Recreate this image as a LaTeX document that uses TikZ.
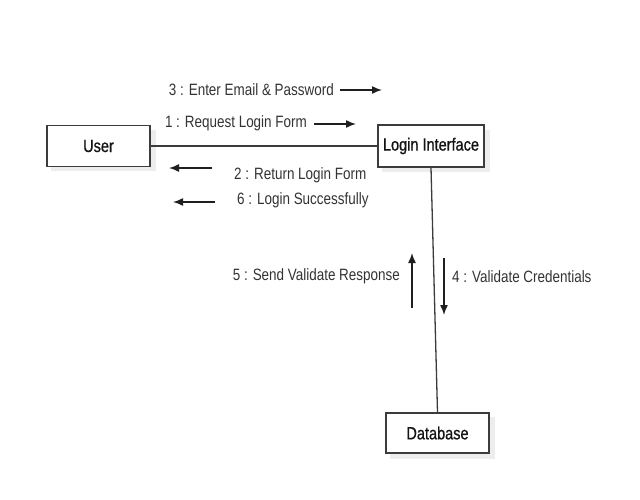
\documentclass[tikz,border=0pt]{standalone}
\usepackage{fontspec}
\setmainfont{Liberation Sans}[FakeStretch=0.82]
\newfontfamily\boxfont{Liberation Sans}[FakeStretch=0.82,FakeBold=0.8]
\usetikzlibrary{arrows.meta}
\definecolor{lbl}{HTML}{333333}
\definecolor{edge}{HTML}{3C3C3C}
\tikzset{
  box/.style={draw=edge, line width=1.5pt, fill=white, font=\boxfont\fontsize{17.7}{20}\selectfont, text=black!92, inner sep=0pt},
  shade/.style={fill=black!7, draw=none},
  lab/.style={font=\fontsize{16.4}{19}\selectfont, text=lbl, inner sep=0pt},
  msg/.style={draw=black!88, line width=1.5pt, -{Latex[length=10pt,width=8pt]}},
  link/.style={draw=edge, line width=1.3pt}
}
\begin{document}
\begin{tikzpicture}[x=1pt,y=-1pt]
\useasboundingbox[fill=white] (0,0) rectangle (640,499);
% shadows
\fill[shade] (51,130) rectangle (156,171);
\fill[shade] (382,130) rectangle (490,172);
\fill[shade] (390,417) rectangle (495,459);
% boxes
\node[box, minimum width=103pt, minimum height=41pt] (user) at (98.5,146) {User};
\node[box, minimum width=106pt, minimum height=42pt] (login) at (431,146) {Login Interface};
\node[box, minimum width=103pt, minimum height=40pt] (db) at (437.5,433) {Database};
% links
\draw[link] (user.east) -- (login.west);
\draw[link] (login.south) -- (db.north);
% messages
\node[lab, anchor=east] (m3) at (334,90) {3 : Enter Email \& Password};
\coordinate (a3s) at (340,90); \coordinate (a3e) at (382,90);
\draw[msg] (a3s) -- (a3e);

\node[lab, anchor=east] (m1) at (307,123) {1 : Request Login Form};
\coordinate (a1s) at (314,124); \coordinate (a1e) at (356,124);
\draw[msg] (a1s) -- (a1e);

\node[lab, anchor=west] (m2) at (234,175) {2 : Return Login Form};
\coordinate (a2s) at (212,168); \coordinate (a2e) at (169,168);
\draw[msg] (a2s) -- (a2e);

\node[lab, anchor=west] (m6) at (237,200) {6 : Login Successfully};
\coordinate (a6s) at (215,202); \coordinate (a6e) at (173,202);
\draw[msg] (a6s) -- (a6e);

\node[lab, anchor=east] (m5) at (400,276) {5 : Send Validate Response};
\coordinate (a5s) at (412,308); \coordinate (a5e) at (412,253);
\draw[msg] (a5s) -- (a5e);

\node[lab, anchor=west] (m4) at (452,277) {4 : Validate Credentials};
\coordinate (a4s) at (444,258); \coordinate (a4e) at (444,315);
\draw[msg] (a4s) -- (a4e);
\end{tikzpicture}
\end{document}
